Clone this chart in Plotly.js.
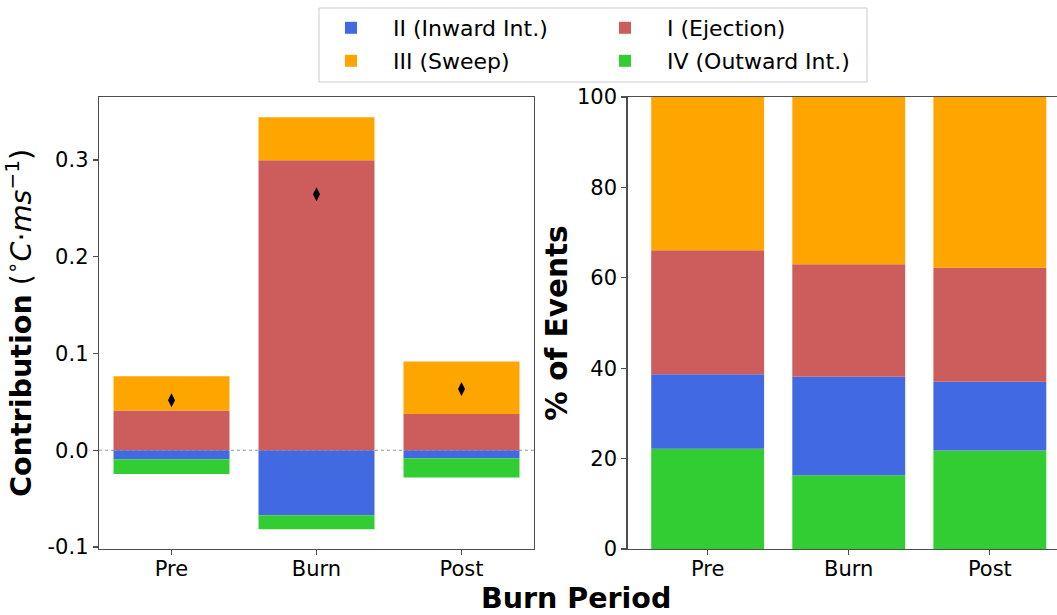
<!DOCTYPE html>
<html><head><meta charset="utf-8">
<script src="https://cdn.plot.ly/plotly-3.0.1.min.js"></script>
<style>html,body{margin:0;padding:0;overflow:hidden;background:#fff}#chart{width:1070px;height:615px}</style>
</head><body><div id="chart"></div>
<script>
// ---- data ----
const periods = ['Pre', 'Burn', 'Post'];
// Contribution (°C·ms⁻¹) by quadrant
const contribII  = [-0.0093, -0.0672, -0.0083];
const contribI   = [0.0411, 0.2996, 0.0375];
const contribIII = [0.0354, 0.0444, 0.0542];
const contribIV  = [-0.0152, -0.0145, -0.0199];
const netContrib = [0.0517, 0.2645, 0.0634];
// % of events by quadrant
const pctIV  = [22.2, 16.3, 21.8];
const pctII  = [16.45, 21.8, 15.2];
const pctI   = [27.45, 24.9, 25.2];
const pctIII = [33.9, 37.0, 37.8];
// tick labels
const leftTickVals = [-0.1, 0, 0.1, 0.2, 0.3];
const leftTickText = ['-0.1', '0.0', '0.1', '0.2', '0.3'];
const rightTickVals = [0, 20, 40, 60, 80, 100];
const rightTickText = ['0', '20', '40', '60', '80', '100'];
const names = {II: 'II (Inward Int.)', I: 'I (Ejection)', III: 'III (Sweep)', IV: 'IV (Outward Int.)'};

// ---- style ----
const colors = {II: '#4169E1', I: '#CD5C5C', III: '#FFA500', IV: '#32CD32'};
const W = 1070, H = 615, ML = 99, MT = 97, MB = 66;
const PW = W - ML, PH = H - MT - MB;
const px2x = p => (p - ML) / PW;
const py2y = p => (H - MB - p) / PH;

function bar(x, y, key, xa, ya, legend, show) {
  return {type: 'bar', x: x, y: y, name: names[key], xaxis: xa, yaxis: ya,
    marker: {color: colors[key], line: {width: 0}}, width: 0.8,
    legend: legend, showlegend: show, hoverinfo: 'skip'};
}

const traces = [
  bar(periods, contribII, 'II', 'x', 'y', 'legend', true),
  bar(periods, contribI, 'I', 'x', 'y', 'legend', true),
  bar(periods, contribIII, 'III', 'x', 'y', 'legend2', true),
  bar(periods, contribIV, 'IV', 'x', 'y', 'legend2', true),
  {type: 'scatter', mode: 'markers', x: periods, y: netContrib, xaxis: 'x', yaxis: 'y',
   marker: {symbol: 'diamond-tall', size: 10, color: '#000'}, showlegend: false, hoverinfo: 'skip'},
  bar(periods, pctIV, 'IV', 'x2', 'y2', 'legend', false),
  bar(periods, pctII, 'II', 'x2', 'y2', 'legend', false),
  bar(periods, pctI, 'I', 'x2', 'y2', 'legend', false),
  bar(periods, pctIII, 'III', 'x2', 'y2', 'legend', false)
];

const axisLine = '#4d4d4d';
const tickFont = {family: 'DejaVu Sans', size: 21, color: '#000'};
const common = {showline: true, linecolor: axisLine, linewidth: 1.3, mirror: true,
  ticks: 'outside', ticklen: 5, tickwidth: 1.2, tickcolor: axisLine,
  showgrid: false, zeroline: false, tickfont: tickFont, fixedrange: true};

const legendCommon = {orientation: 'h', xref: 'container', yref: 'container',
  xanchor: 'left', yanchor: 'top', entrywidth: 185, entrywidthmode: 'pixels',
  itemwidth: 74, font: {family: 'DejaVu Sans', size: 22, color: '#000'},
  bgcolor: 'rgba(0,0,0,0)', borderwidth: 0, traceorder: 'normal'};

const layout = {
  width: W, height: H,
  margin: {l: ML, r: 0, t: MT, b: MB, pad: 0},
  paper_bgcolor: '#fff', plot_bgcolor: '#fff',
  font: {family: 'DejaVu Sans', color: '#000'},
  barmode: 'relative',
  xaxis: Object.assign({}, common, {domain: [0, px2x(534)], range: [-0.5, 2.5], type: 'category', anchor: 'y', ticklabelstandoff: -5}),
  yaxis: Object.assign({}, common, {range: [-0.102, 0.365], tickvals: leftTickVals, ticktext: leftTickText, anchor: 'x',
    title: {text: '<b>Contribution</b> (<sup>∘</sup><i>C</i>·<i>ms</i><sup>−1</sup>)', font: {size: 28.6, color: '#000'}, standoff: 7}}),
  xaxis2: Object.assign({}, common, {domain: [px2x(627.5), 1], range: [-0.568, 2.568], type: 'category', anchor: 'y2', ticklabelstandoff: -5}),
  yaxis2: Object.assign({}, common, {range: [0, 100], tickvals: rightTickVals, ticktext: rightTickText, anchor: 'x2',
    title: {text: '<b>% of Events</b>', font: {size: 29.5, color: '#000'}, standoff: 0}}),
  legend: Object.assign({}, legendCommon, {x: 309 / W, y: 1 - 7 / H}),
  legend2: Object.assign({}, legendCommon, {x: 309 / W, y: 1 - 40 / H}),
  shapes: [
    {type: 'line', xref: 'x domain', yref: 'y', x0: 0, x1: 1, y0: 0, y1: 0,
     line: {color: '#999', width: 1, dash: 'dot'}, layer: 'below'},
    {type: 'rect', xref: 'paper', yref: 'paper', x0: px2x(319), x1: px2x(867), y0: py2y(82), y1: py2y(8),
     line: {color: '#cccccc', width: 1}, fillcolor: 'rgba(0,0,0,0)', layer: 'above'}
  ],
  annotations: [
    {text: '<b>Burn Period</b>', xref: 'paper', yref: 'paper', x: px2x(576), y: py2y(598),
     xanchor: 'center', yanchor: 'middle', showarrow: false, font: {size: 28.5, color: '#000'}}
  ]
};

Plotly.newPlot('chart', traces, layout, {displayModeBar: false, staticPlot: true});
</script>
</body></html>
